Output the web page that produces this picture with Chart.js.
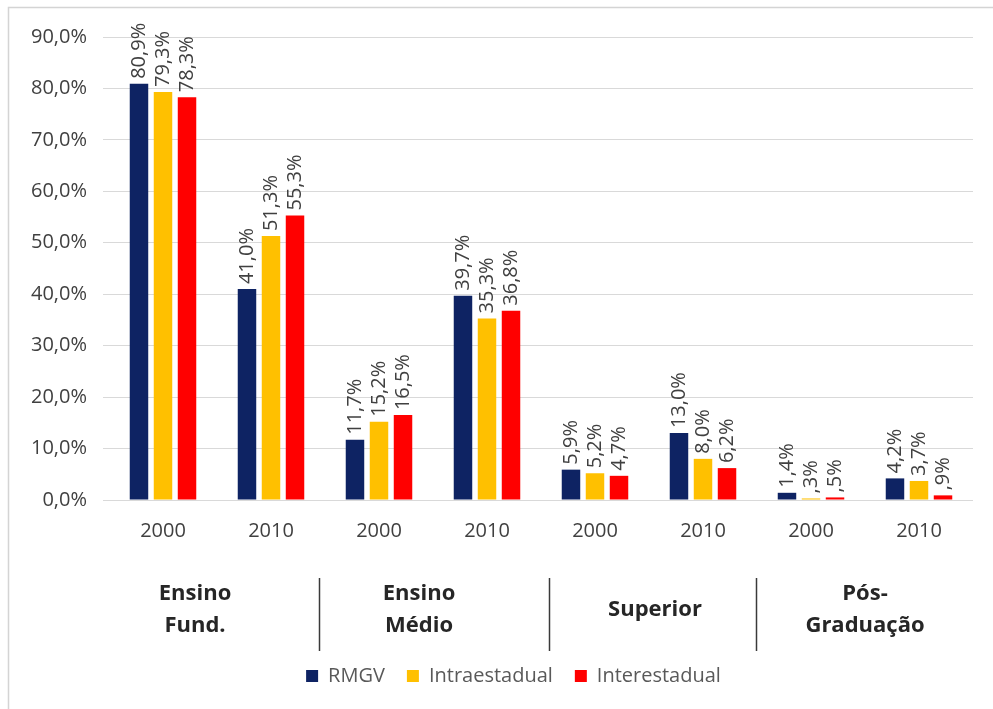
<!DOCTYPE html>
<html>
<head>
<meta charset="utf-8">
<script src="https://cdn.jsdelivr.net/npm/chart.js@4/dist/chart.umd.min.js"></script>
<style>
  html, body { margin: 0; padding: 0; background: #fff; }
  #wrap { width: 993px; height: 709px; position: relative; }
</style>
</head>
<body>
<div id="wrap"><canvas id="c" width="993" height="709"></canvas></div>
<script>
// Categories: census year inside each schooling level
const years = ['2000', '2010', '2000', '2010', '2000', '2010', '2000', '2010'];
const levels = [['Ensino', 'Fund.'], ['Ensino', 'Médio'], ['Superior'], ['Pós-', 'Graduação']];

// Series (percent of each migrant group)
const seriesNames = ['RMGV', 'Intraestadual', 'Interestadual'];
const rmgv          = [80.9, 41.0, 11.7, 39.7, 5.9, 13.0, 1.4, 4.2];
const intraestadual = [79.3, 51.3, 15.2, 35.3, 5.2,  8.0, 0.3, 3.7];
const interestadual = [78.3, 55.3, 16.5, 36.8, 4.7,  6.2, 0.5, 0.9];

// Value axis
const yMin = 0, yMax = 90, yStep = 10;

const colors = ['#0E2363', '#FFC000', '#FF0000'];
const FONT = '"Open Sans", "DejaVu Sans", sans-serif';

const axisPct = v => v.toFixed(1).replace('.', ',') + '%';
const labelPct = v => (v < 1 ? v.toFixed(1).replace(/^0/, '') : v.toFixed(1)).replace('.', ',') + '%';

// outer frame of the chart object
const framePlugin = {
  id: 'frame',
  beforeDraw(chart) {
    const ctx = chart.ctx;
    ctx.save();
    ctx.fillStyle = '#ffffff';
    ctx.fillRect(0, 0, chart.width, chart.height);
    ctx.strokeStyle = '#d4d4d4';
    ctx.lineWidth = 1.5;
    ctx.beginPath();
    ctx.moveTo(8.5, chart.height + 2);
    ctx.lineTo(8.5, 7.5);
    ctx.lineTo(chart.width + 2, 7.5);
    ctx.stroke();
    ctx.restore();
  }
};

// nudge the legend row sideways after layout
const legendShift = {
  id: 'legendShift',
  afterLayout(chart, args, opts) {
    if (chart.legend) {
      chart.legend.left += opts.dx;
      chart.legend.right += opts.dx;
    }
  }
};

// rotated value labels above each bar
const valueLabels = {
  id: 'valueLabels',
  afterDatasetsDraw(chart) {
    const ctx = chart.ctx;
    ctx.save();
    ctx.font = '20px ' + FONT;
    ctx.fillStyle = '#404040';
    ctx.textAlign = 'left';
    ctx.textBaseline = 'middle';
    chart.data.datasets.forEach((ds, di) => {
      const meta = chart.getDatasetMeta(di);
      meta.data.forEach((bar, i) => {
        ctx.save();
        ctx.translate(bar.x, bar.y - 5);
        ctx.rotate(-Math.PI / 2);
        ctx.fillText(labelPct(ds.data[i]), 0, 0);
        ctx.restore();
      });
    });
    ctx.restore();
  }
};

// second level of the category axis: schooling level names and separators
const levelAxis = {
  id: 'levelAxis',
  afterDraw(chart, args, opts) {
    const ctx = chart.ctx;
    const x = chart.scales.x;
    ctx.save();
    ctx.font = 'bold 22px ' + FONT;
    ctx.fillStyle = '#262626';
    ctx.textAlign = 'center';
    ctx.textBaseline = 'middle';
    levels.forEach((lines, g) => {
      const cx = (x.getPixelForValue(2 * g) + x.getPixelForValue(2 * g + 1)) / 2 + opts.labelShift[g];
      const top = opts.centerY - (lines.length - 1) * opts.lineGap / 2;
      lines.forEach((t, k) => ctx.fillText(t, cx, top + k * opts.lineGap));
    });
    ctx.strokeStyle = '#3a3a3a';
    ctx.lineWidth = 1.5;
    for (let g = 1; g < levels.length; g++) {
      const sx = Math.round((x.getPixelForValue(2 * g - 1) + x.getPixelForValue(2 * g)) / 2 + opts.sepShift[g - 1]) + 0.5;
      ctx.beginPath();
      ctx.moveTo(sx, opts.sepTop);
      ctx.lineTo(sx, opts.sepBottom);
      ctx.stroke();
    }
    ctx.restore();
  }
};

const seriesData = [rmgv, intraestadual, interestadual];

new Chart(document.getElementById('c'), {
  type: 'bar',
  data: {
    labels: years,
    datasets: seriesNames.map((name, i) => ({
      label: name,
      data: seriesData[i],
      backgroundColor: colors[i],
      borderWidth: 0,
      barPercentage: 0.77,
      categoryPercentage: 0.667
    }))
  },
  options: {
    responsive: false,
    animation: false,
    devicePixelRatio: 1,
    layout: { padding: { left: 0, right: 20, top: 37, bottom: 13 } },
    plugins: {
      legend: {
        position: 'bottom',
        labels: {
          boxWidth: 12,
          boxHeight: 12,
          padding: 22,
          color: '#595959',
          font: { family: FONT, size: 20 }
        }
      },
      legendShift: { dx: 27 },
      tooltip: { enabled: false },
      levelAxis: {
        labelShift: [-22, -14, 6, 0],
        sepShift: [-6, 8, -1],
        centerY: 610,
        lineGap: 32,
        sepTop: 578,
        sepBottom: 651
      }
    },
    scales: {
      x: {
        grid: { display: false, drawTicks: false },
        border: { display: false },
        ticks: {
          color: '#404040',
          font: { family: FONT, size: 20 },
          padding: 19,
          maxRotation: 0,
          autoSkip: false
        },
        afterFit(scale) { scale.height = 144; }
      },
      y: {
        min: yMin,
        max: yMax,
        grid: { color: '#d9d9d9', lineWidth: 1, drawTicks: true, tickLength: 6, tickColor: '#d9d9d9' },
        border: { display: false },
        ticks: {
          stepSize: yStep,
          color: '#404040',
          font: { family: FONT, size: 20 },
          padding: 16,
          callback: v => axisPct(v)
        },
        afterFit(scale) { scale.width = 109; }
      }
    }
  },
  plugins: [framePlugin, legendShift, valueLabels, levelAxis]
});
</script>
</body>
</html>
